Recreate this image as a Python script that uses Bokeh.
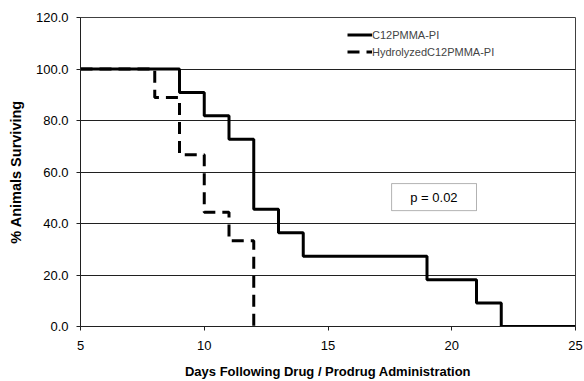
from bokeh.plotting import figure
from bokeh.models import Legend, LegendItem, Label, BoxAnnotation, FixedTicker, NumeralTickFormatter, Range1d
from bokeh.embed import file_html
from bokeh.resources import INLINE

# Data
days_c12 = [5, 9, 10, 11, 12, 13, 14, 19, 21, 22, 25]
surv_c12 = [100.0, 90.9, 81.8, 72.7, 45.5, 36.4, 27.3, 18.2, 9.1, 0.0, 0.0]
days_hyd = [5, 8, 9, 10, 11, 12]
surv_hyd = [100.0, 88.9, 66.7, 44.4, 33.3, 0.0]
x_ticks = [5, 10, 15, 20, 25]
y_ticks = [0, 20, 40, 60, 80, 100, 120]
series_names = ["C12PMMA-PI", "HydrolyzedC12PMMA-PI"]
p_text = "p = 0.02"

FONT = "Liberation Sans"

p = figure(width=584, height=381, output_backend="svg", toolbar_location=None,
           x_range=Range1d(5, 25), y_range=Range1d(0, 120),
           min_border_left=80, min_border_right=9, min_border_top=17, min_border_bottom=55)

p.outline_line_color = "#404040"
p.outline_line_width = 1

p.xgrid.grid_line_color = None
p.ygrid.grid_line_color = "#202020"
p.ygrid.grid_line_width = 1

p.xaxis.ticker = FixedTicker(ticks=x_ticks)
p.yaxis.ticker = FixedTicker(ticks=y_ticks)
p.yaxis.formatter = NumeralTickFormatter(format="0.0")
for ax in (p.xaxis, p.yaxis):
    ax.axis_line_color = "#202020"
    ax.major_tick_line_color = "#202020"
    ax.major_tick_out = 4
    ax.major_tick_in = 0
    ax.minor_tick_line_color = None
    ax.major_label_text_font = FONT
    ax.major_label_text_font_size = "13px"
    ax.major_label_text_color = "black"
    ax.axis_label_text_font = FONT
    ax.axis_label_text_font_style = "bold"
    ax.axis_label_text_color = "black"

p.xaxis.axis_label = "Days Following Drug / Prodrug Administration"
p.yaxis.axis_label = "% Animals Surviving"
p.xaxis.axis_label_text_font_size = "13px"
p.yaxis.axis_label_text_font_size = "14.5px"
p.xaxis.major_label_standoff = 10
p.yaxis.major_label_standoff = 8
p.xaxis.axis_label_standoff = 11
p.yaxis.axis_label_standoff = 9

r1 = p.step(days_c12, surv_c12, mode="after", line_color="black", line_width=3)
r2 = p.step(days_hyd, surv_hyd, mode="after", line_color="black", line_width=3, line_dash="12 7")

legend = Legend(items=[LegendItem(label=series_names[0], renderers=[r1]),
                       LegendItem(label=series_names[1], renderers=[r2])],
                location=(267, 266), border_line_color=None, background_fill_alpha=0,
                padding=0, margin=0, spacing=0, glyph_width=25, glyph_height=17,
                label_height=17, label_standoff=0,
                label_text_font=FONT, label_text_font_size="11px")
p.add_layout(legend, "center")

box = BoxAnnotation(left=17.57, right=21.0, bottom=45.0, top=55.5,
                    fill_color="white", fill_alpha=1, line_color="black", line_width=1)
p.add_layout(box)
p.add_layout(Label(x=19.28, y=50.25, text=p_text, text_align="center", text_baseline="middle",
                   text_font=FONT, text_font_size="13px", text_color="black"))

open("out.html", "w").write(file_html(p, INLINE))
